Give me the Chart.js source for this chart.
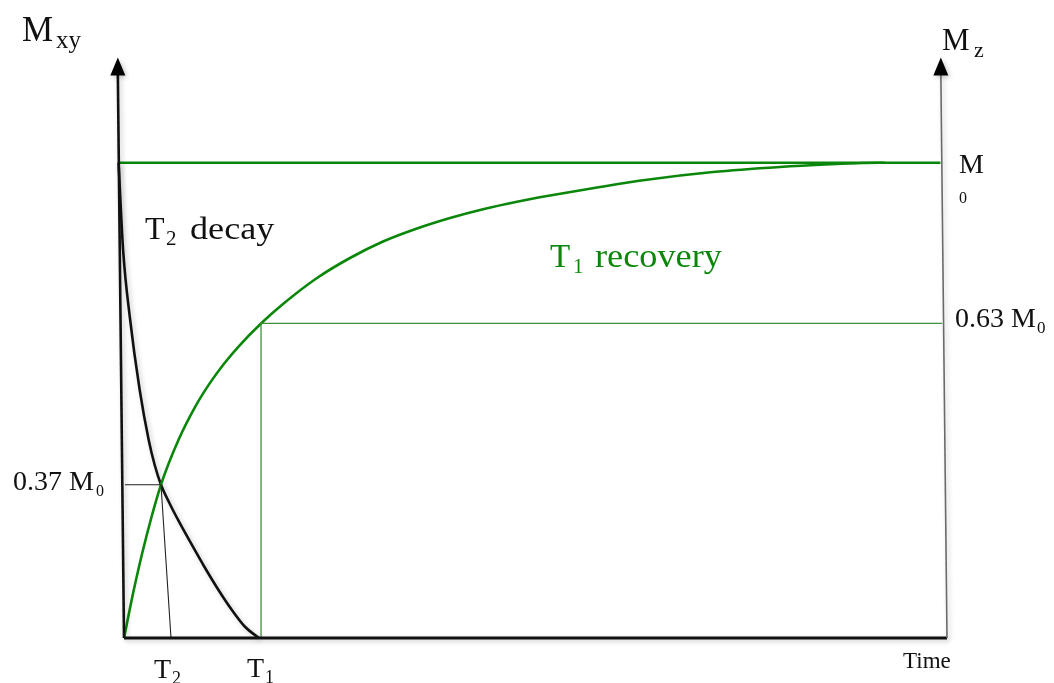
<!DOCTYPE html>
<html>
<head>
<meta charset="utf-8">
<script src="https://cdn.jsdelivr.net/npm/chart.js@4.4.1/dist/chart.umd.min.js"></script>
<style>
  html, body { margin: 0; padding: 0; background: #ffffff; }
  #wrap { width: 1054px; height: 683px; position: relative; }
</style>
</head>
<body>
<div id="wrap"><canvas id="c" width="1054" height="683"></canvas></div>
<script>
// ---- Data (time in arbitrary units, magnetisation as fraction of M0) ----
const t1Time = [0, 1.215, 2.552, 4.496, 6.683, 8.627, 10.328, 12.151, 13.973, 16.646, 19.320, 23.451, 27.461, 31.470, 35.601, 39.611, 43.621, 47.752, 51.762, 57.837, 63.548, 71.567, 79.708, 85.784, 89.793, 92.467];
const t1Mz   = [0, 0.1031, 0.2020, 0.3225, 0.4191, 0.4858, 0.5336, 0.5771, 0.6143, 0.6617, 0.7027, 0.7574, 0.7995, 0.8342, 0.8616, 0.8837, 0.9022, 0.9180, 0.9310, 0.9489, 0.9642, 0.9804, 0.9910, 0.9966, 0.9994, 1.0];

const t2Time = [-0.66, -0.109, 0.705, 1.908, 3.001, 3.730, 4.496, 5.516, 6.573, 8.117, 9.781, 11.482, 13.110, 14.727, 16.403];
const t2Mxy  = [1.0, 0.8163, 0.6754, 0.5218, 0.4166, 0.3640, 0.3225, 0.2840, 0.2483, 0.1999, 0.1494, 0.1010, 0.0589, 0.0231, 0];

const m0Level   = 1.0;     // M0
const level63   = 0.662;   // 0.63 M0 as drawn
const level37   = 0.3225;  // 0.37 M0 as drawn
const t1Mark    = 16.65;   // T1
const t2Mark    = 5.71;    // T2 foot
const crossTime = 4.496;   // crossing of the two curves
const timeStart = -2;
const timeEnd   = 100;     // end of time axis
const axisTop   = 1.19;    // top of the vertical axes
const axisLean  = 0.75;    // lean of the vertical axes (time units)

const tickLabels = ['T2', 'T1', 'Time', '0.37 M0', '0.63 M0', 'M0'];

// ---- build datasets ----
function pts(xs, ys) { return xs.map((x, i) => ({ x: x, y: ys[i] })); }

const GREEN = '#0a870a';
const THIN_GREEN = '#3d8f3d';

const datasets = [
  { label: 'left axis', data: pts([-axisLean, 0], [axisTop, 0]), borderColor: '#111', borderWidth: 2.6, shadow: true },
  { label: 'right axis', data: pts([timeEnd - axisLean, timeEnd], [axisTop, 0]), borderColor: '#6a6a6a', borderWidth: 1.6, shadow: true },
  { label: 'time axis', data: pts([0, timeEnd], [0, 0]), borderColor: '#111', borderWidth: 3, shadow: true },
  { label: 'M0', data: pts([-0.63, timeEnd - 0.8], [m0Level, m0Level]), borderColor: GREEN, borderWidth: 2.6 },
  { label: '0.63', data: pts([t1Mark, t1Mark, timeEnd - 0.6], [0, level63, level63]), borderColor: THIN_GREEN, borderWidth: 1.3 },
  { label: '0.37', data: pts([0.12, crossTime, t2Mark], [level37, level37, 0]), borderColor: '#222', borderWidth: 1.1 },
  { label: 'T1 recovery', data: pts(t1Time, t1Mz), borderColor: GREEN, borderWidth: 2.6, cubicInterpolationMode: 'monotone' },
  { label: 'T2 decay', data: pts(t2Time, t2Mxy), borderColor: '#111', borderWidth: 2.6, cubicInterpolationMode: 'monotone', shadow: true }
].map(d => Object.assign({ pointRadius: 0, fill: false, clip: false, tension: 0 }, d));

// ---- shadows for the black strokes ----
const shadowPlugin = {
  id: 'shadow',
  beforeDatasetDraw(chart, args) {
    const ds = chart.data.datasets[args.index];
    const ctx = chart.ctx;
    ctx.save();
    if (ds.shadow) {
      ctx.shadowColor = 'rgba(0,0,0,0.22)';
      ctx.shadowBlur = 5;
      ctx.shadowOffsetX = 2;
      ctx.shadowOffsetY = 2;
    }
  },
  afterDatasetDraw(chart) { chart.ctx.restore(); }
};

// ---- labels plugin ----
function txt(ctx, s, size, x, y, color, sx) {
  ctx.save();
  ctx.fillStyle = color;
  ctx.textBaseline = 'alphabetic';
  ctx.textAlign = 'left';
  ctx.font = size + 'px "Liberation Serif", "Times New Roman", serif';
  ctx.translate(x, y);
  ctx.scale(sx || 1, 1);
  ctx.fillText(s, 0, 0);
  ctx.restore();
}

const labelsPlugin = {
  id: 'labels',
  afterDatasetsDraw(chart) {
    const ctx = chart.ctx;
    const xs = chart.scales.x, ys = chart.scales.y;
    const topL = { x: xs.getPixelForValue(-axisLean), y: ys.getPixelForValue(axisTop) };
    const topR = { x: xs.getPixelForValue(timeEnd - axisLean), y: ys.getPixelForValue(axisTop) };
    ctx.save();
    ctx.shadowColor = 'rgba(0,0,0,0.22)';
    ctx.shadowBlur = 5;
    ctx.shadowOffsetX = 2;
    ctx.shadowOffsetY = 2;
    [topL, topR].forEach(p => {
      ctx.fillStyle = '#000';
      ctx.beginPath();
      ctx.moveTo(p.x, p.y - 15);
      ctx.lineTo(p.x - 7.5, p.y + 3);
      ctx.lineTo(p.x + 7.5, p.y + 3);
      ctx.closePath();
      ctx.fill();
    });
    ctx.restore();

    const yM0 = ys.getPixelForValue(m0Level);
    const y0 = ys.getPixelForValue(0);
    const K = '#111';

    txt(ctx, 'M', 35, 22, 41, K);
    txt(ctx, 'xy', 25, 56, 48, K);
    txt(ctx, 'M', 31, 942, 50, K);
    txt(ctx, 'z', 22, 974, 57, K);
    txt(ctx, 'M', 28, 959, yM0 + 10, K);
    txt(ctx, '0', 16, 959, yM0 + 40, K);
    txt(ctx, 'T', 32, 145, 239, K);
    txt(ctx, '2', 21, 166, 245, K);
    txt(ctx, 'decay', 32, 190, 239, K, 1.13);
    txt(ctx, 'T', 33, 550, 267, GREEN);
    txt(ctx, '1', 21, 573, 273, GREEN);
    txt(ctx, 'recovery', 33, 595, 267, GREEN, 1.1);
    txt(ctx, '0.63 M', 28, 955, 327, K);
    txt(ctx, '0', 17, 1037, 333, K);
    txt(ctx, '0.37 M', 28, 13, 490, K);
    txt(ctx, '0', 16, 96, 496, K);
    txt(ctx, 'T', 28, 154, y0 + 40, K);
    txt(ctx, '2', 18, 172, y0 + 46, K);
    txt(ctx, 'T', 28, 247, y0 + 39, K);
    txt(ctx, '1', 18, 265, y0 + 45, K);
    txt(ctx, 'Time', 23, 903, y0 + 30, K);
  }
};

new Chart(document.getElementById('c'), {
  type: 'line',
  data: { datasets: datasets },
  options: {
    responsive: false,
    maintainAspectRatio: false,
    animation: false,
    devicePixelRatio: 1,
    layout: { padding: { left: 107.54, right: 107, top: 162.7, bottom: 45 } },
    plugins: { legend: { display: false }, tooltip: { enabled: false }, title: { display: false } },
    scales: {
      x: { type: 'linear', min: timeStart, max: timeEnd, display: false },
      y: { type: 'linear', min: 0, max: 1, display: false }
    },
    elements: { line: { borderCapStyle: 'butt', borderJoinStyle: 'miter' } }
  },
  plugins: [shadowPlugin, labelsPlugin]
});
</script>
</body>
</html>
